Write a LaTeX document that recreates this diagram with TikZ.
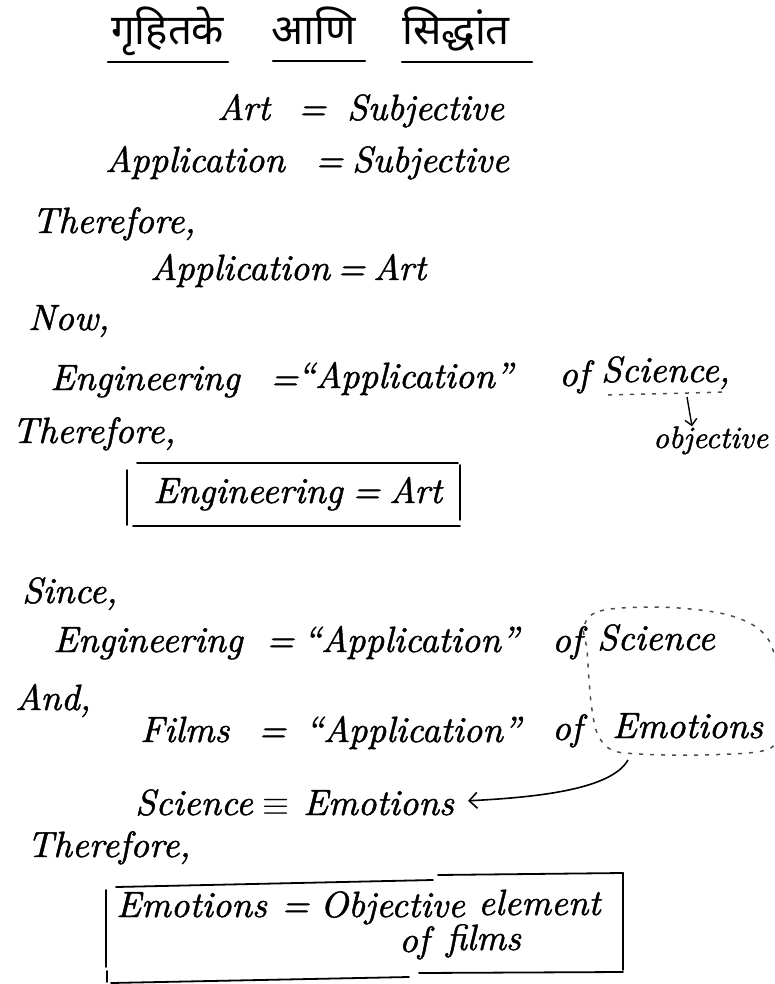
\documentclass[tikz,border=0pt]{standalone}
\usepackage{fontspec}
\usepackage{graphicx}
\newfontfamily\deva[Script=Devanagari]{Noto Sans}
\newfontfamily\hwfam{lmroman10-italic.otf}[FakeBold=1.3,Ligatures=TeX]
\usetikzlibrary{arrows.meta}
\newcommand\hwfont{\fontsize{36.5}{42}\selectfont\hwfam}
\newcommand\hwsmall{\fontsize{31}{36}\selectfont\hwfam}
\newcommand\devafont{\fontsize{42}{48}\selectfont\deva}
\begin{document}
\begin{tikzpicture}[x=1pt,y=-1pt,
  tx/.style={anchor=base west,inner sep=0pt,font=\hwfont},
  txs/.style={anchor=base west,inner sep=0pt,font=\hwsmall},
  ttl/.style={anchor=base west,inner sep=0pt,font=\devafont},
  pen/.style={line width=1.8pt,line cap=round},
  uline/.style={line width=2.4pt,line cap=round},
  dotloop/.style={line width=1.5pt,gray!60!black,dash pattern=on 4pt off 7pt},
  arr/.style={line width=1.6pt,-{Straight Barb[length=8pt,width=16pt,line width=1.6pt]}},
  sarr/.style={line width=1.4pt,-{Straight Barb[length=6pt,width=12pt,line width=1.4pt]}}]
\useasboundingbox (0,0) rectangle (774,984);
% title
\node[ttl] (t1) at (111,45) {गृहितके};
\node[ttl] (t2) at (271,45) {आणि};
\node[ttl] (t3) at (402,45) {सिद्धांत};
\draw[uline] (108,62) -- (228,62);
\draw[uline] (273,61) -- (365,61);
\draw[uline] (402,62) -- (532,62);
% Art = Subjective
\node[tx] (a1) at (217,120) {Art};
\node[tx] (a2) at (298,120) {=};
\node[tx] (a3) at (347,120) {Subjective};
% Application = Subjective
\node[tx] (b1) at (105,172) {Application};
\node[tx] (b2) at (315,172) {=};
\node[tx] (b3) at (352,172) {Subjective};
\node[tx] (c1) at (32,233) {Therefore,};
\node[tx] (d1) at (150,280) {Application};
\node[tx] (d2) at (337,280) {=};
\node[tx] (d3) at (373,280) {Art};
\node[tx] (e1) at (28,330) {Now,};
% Engineering = "Application" of Science,
\node[tx] (f1) at (50,390) {Engineering};
\node[tx] (f2) at (270,390) {=};
\node[tx] (f3) at (297,388) {``Application''};
\node[tx] (f4) at (559,386) {of};
\node[tx] (f5) at (601,382) {Science,};
\draw[dotloop] (608,395) -- (728,392);
\node[txs] (obj) at (653,448) {objective};
\draw[sarr] (687,397) -- (obj.north -| 692,0);
\node[tx] (g1) at (12,443) {Therefore,};
% box 1
\node[tx] (h1) at (153,503) {Engineering};
\node[tx] (h2) at (352,503) {=};
\node[tx] (h3) at (389,503) {Art};
\draw[pen] (137,463) -- (458,463);
\draw[pen] (127,470) -- (127,525);
\draw[pen] (460,465) -- (460,520);
\draw[pen] (133,526) -- (460,526);
% Since
\node[tx] (i1) at (22,603) {Since,};
\node[tx] (j1) at (53,652) {Engineering};
\node[tx] (j2) at (266,652) {=};
\node[tx] (j3) at (303,652) {``Application''};
\node[tx] (j4) at (552,652) {of};
\node[tx] (j5) at (597,650) {Science};
\node[tx] (k1) at (15,710) {And,};
\node[tx] (l1) at (140,742) {Films};
\node[tx] (l2) at (258,742) {=};
\node[tx] (l3) at (305,742) {``Application''};
\node[tx] (l4) at (552,740) {of};
\node[tx] (l5) at (612,738) {Emotions};
% dotted loop
\draw[dotloop] plot[smooth cycle,tension=0.6] coordinates
  {(584,626) (600,611) (650,607) (700,610) (735,617) (760,630) (773,650)
   (780,690) (777,730) (766,750) (700,755) (640,754) (612,750) (598,735)
   (592,710) (589,680) (587,650)};
% Science = Emotions
\node[tx] (m1) at (135,815) {Science};
\node[tx] (m2) at (262,815) {\scalebox{1.4}{$\equiv$}};
\node[tx] (m3) at (303,815) {Emotions};
\coordinate (arrs) at (628,760);
\draw[arr] (arrs) .. controls (612,788) and (545,797) .. ([xshift=14pt,yshift=2pt]m3.east);
\node[tx] (n1) at (27,857) {Therefore,};
% box 2
\node[tx] (o1) at (116,917) {Emotions};
\node[tx] (o2) at (281,917) {=};
\node[tx] (o3) at (320,917) {Objective};
\node[tx] (o4) at (478,915) {element};
\node[tx] (p1) at (399,952) {of};
\node[tx] (p2) at (446,950) {films};
\draw[pen] (116,887) -- (433,880);
\draw[pen] (438,875) -- (623,873);
\draw[pen] (623,873) -- (623,970);
\draw[pen] (106,890) -- (106,967);
\draw[pen] (107,971) -- (107,982);
\draw[pen] (111,983) -- (409,977);
\draw[pen] (419,973) -- (623,972);
\end{tikzpicture}
\end{document}
